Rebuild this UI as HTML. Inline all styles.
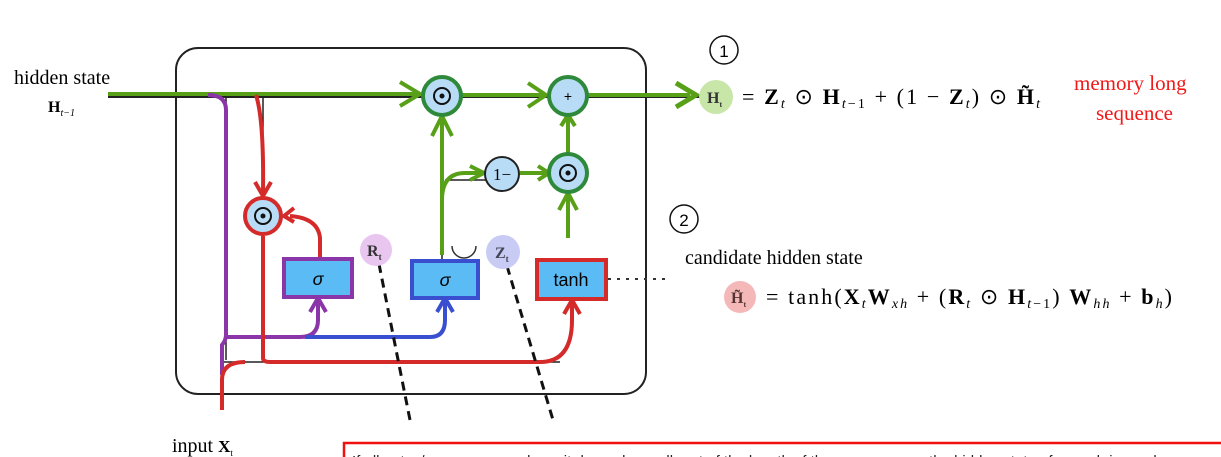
<!DOCTYPE html>
<html><head><meta charset="utf-8"><style>
html,body{margin:0;padding:0;background:#fff;width:1221px;height:457px;overflow:hidden}
svg{display:block}
.s{font-family:"Liberation Serif",serif}
</style></head><body>
<svg width="1221" height="457" viewBox="0 0 1221 457">
<!-- cell box -->
<rect x="176" y="48" width="470" height="346" rx="22" fill="none" stroke="#222" stroke-width="2"/>
<path d="M108,97 H700" stroke="#222" stroke-width="2" fill="none"/>
<path d="M226,97 V360 M263,97 V360 M222,362 H560 M442,262 V173 M445,180 H486" stroke="#222" stroke-width="1.5" fill="none"/>
<g stroke="#58a018" stroke-width="4" fill="none">
<path d="M108,94 H420"/><path d="M400,82 L420,94 L400,106"/>
<path d="M462,95 H546"/><path d="M528,83 L546,95 L528,107"/>
<path d="M588,95 H690"/><path d="M676,83 L696,95 L676,107" stroke-width="5"/>
<path d="M442,255 V118"/><path d="M432,136 L442,116 L452,136"/>
<path d="M442,200 Q442,173 465,173 H484"/><path d="M470,166 L484,173 L470,180"/>
<path d="M520,173 H548"/><path d="M538,166 L549,173 L538,180"/>
<path d="M568,238 V195"/><path d="M559,210 L568,193 L577,210"/>
<path d="M568,153 V117"/><path d="M561,126 L568,115 L575,126"/>
</g>
<path d="M208,95 Q226,95 226,110 V335 Q226,340 222,345 V375" stroke="#8a35a8" stroke-width="4" fill="none"/>
<path d="M226,337 H300 Q318,337 318,320 V300 M310,312 L318,298 L326,312" stroke="#8a35a8" stroke-width="4" fill="none"/>
<path d="M305,337 H430 Q445,337 445,320 V300 M437,312 L445,298 L453,312" stroke="#3a4fd0" stroke-width="4" fill="none"/>
<g stroke="#d42a2a" stroke-width="4" fill="none">
<path d="M256,95 Q264,120 263,192"/><path d="M255,182 L263,196 L271,182"/>
<path d="M263,236 V358 Q263,362 270,362 H540 Q572,362 572,320 V302"/><path d="M564,314 L572,300 L580,314"/>
<path d="M222,410 V380 Q222,362 245,362"/>
<path d="M320,258 V238 Q318,218 290,216"/><path d="M294,208 L284,216 L294,222"/>
</g>
<path d="M379,264 L410,420" stroke="#111" stroke-width="3" stroke-dasharray="9,6" fill="none"/>
<path d="M507,266 L553,420" stroke="#111" stroke-width="3" stroke-dasharray="9,6" fill="none"/>
<path d="M608,279 H668" stroke="#333" stroke-width="2" stroke-dasharray="3,6" fill="none"/>
<g><circle cx="263" cy="216" r="18" fill="#b8dcf5" stroke="#d42a2a" stroke-width="4"/><circle cx="263" cy="216" r="8" fill="none" stroke="#111" stroke-width="2"/><circle cx="263" cy="216" r="2.5" fill="#111"/></g>
<g><circle cx="442" cy="96" r="19" fill="#b8dcf5" stroke="#2e8a3a" stroke-width="4"/><circle cx="442" cy="96" r="8" fill="none" stroke="#111" stroke-width="2"/><circle cx="442" cy="96" r="2.5" fill="#111"/></g>
<g><circle cx="568" cy="96" r="19" fill="#b8dcf5" stroke="#2e8a3a" stroke-width="4"/><text x="568" y="101" text-anchor="middle" font-family="Liberation Sans,sans-serif" font-size="14">+</text></g>
<g><circle cx="568" cy="173" r="19" fill="#b8dcf5" stroke="#2e8a3a" stroke-width="4"/><circle cx="568" cy="173" r="8" fill="none" stroke="#111" stroke-width="2"/><circle cx="568" cy="173" r="2.5" fill="#111"/></g>
<g><circle cx="502" cy="174" r="17" fill="#b8dcf5" stroke="#222" stroke-width="2"/><text x="502" y="180" text-anchor="middle" class="s" font-size="17">1−</text></g>
<g><rect x="284" y="259" width="68" height="38" fill="#5bbcf5" stroke="#8a35a8" stroke-width="4"/><text x="318" y="285" text-anchor="middle" font-family="Liberation Sans,sans-serif" font-style="italic" font-size="18">σ</text></g>
<g><rect x="412" y="261" width="66" height="37" fill="#5bbcf5" stroke="#3a4fd0" stroke-width="4"/><text x="445" y="286" text-anchor="middle" font-family="Liberation Sans,sans-serif" font-style="italic" font-size="18">σ</text></g>
<g><rect x="537" y="260" width="69" height="39" fill="#5bbcf5" stroke="#d42a2a" stroke-width="4"/><text x="571" y="286" text-anchor="middle" font-family="Liberation Sans,sans-serif" font-size="18">tanh</text></g>
<g><circle cx="376" cy="250" r="16" fill="#e8c6f0"/><text x="367" y="256" class="s" font-size="16" font-weight="bold" fill="#333">R<tspan font-size="9" dy="4">t</tspan></text></g>
<path d="M452,246 A12,12 0 0 0 476,246" fill="none" stroke="#333" stroke-width="1.5"/>
<g><circle cx="503" cy="252" r="17" fill="#c8ccf5"/><text x="495" y="258" class="s" font-size="16" font-weight="bold" fill="#445">Z<tspan font-size="9" dy="4">t</tspan></text></g>
<text x="14" y="84" class="s" font-size="20">hidden state</text>
<text x="48" y="112" class="s" font-size="16" font-weight="bold">H<tspan font-size="10" font-weight="normal" font-style="italic" dy="4">t−1</tspan></text>
<text x="172" y="452" class="s" font-size="20">input <tspan font-weight="bold" font-size="17">X</tspan><tspan font-size="9" dy="4">t</tspan></text>
<g><circle cx="724" cy="50" r="14" fill="none" stroke="#111" stroke-width="1.5"/><text x="724" y="57" text-anchor="middle" font-family="Liberation Sans,sans-serif" font-size="17">1</text></g>
<circle cx="716" cy="97" r="17" fill="#c8e6a8"/>
<text x="707" y="103" class="s" font-size="16" font-weight="bold" fill="#333">H<tspan font-size="8" dy="4">t</tspan></text>
<text x="742" y="104" class="s" font-size="22" textLength="298" lengthAdjust="spacing">= <tspan font-weight="bold">Z</tspan><tspan font-size="14" font-style="italic" dy="4">t</tspan><tspan dy="-4"> ⊙ </tspan><tspan font-weight="bold">H</tspan><tspan font-size="14" dy="4"><tspan font-style="italic">t</tspan>−1</tspan><tspan dy="-4"> + (1 − </tspan><tspan font-weight="bold">Z</tspan><tspan font-size="14" font-style="italic" dy="4">t</tspan><tspan dy="-4">) ⊙ </tspan><tspan font-weight="bold">H̃</tspan><tspan font-size="14" font-style="italic" dy="4">t</tspan></text>
<text x="1074" y="90" class="s" font-size="21" fill="#f01818">memory long</text>
<text x="1096" y="120" class="s" font-size="21" fill="#f01818">sequence</text>
<g><circle cx="684" cy="219" r="14" fill="none" stroke="#111" stroke-width="1.5"/><text x="684" y="226" text-anchor="middle" font-family="Liberation Sans,sans-serif" font-size="17">2</text></g>
<text x="685" y="264" class="s" font-size="20">candidate hidden state</text>
<circle cx="740" cy="297" r="16" fill="#f5b8b8"/>
<text x="731" y="303" class="s" font-size="16" font-weight="bold" fill="#533">H̃<tspan font-size="8" dy="4">t</tspan></text>
<text x="766" y="304" class="s" font-size="22" textLength="406" lengthAdjust="spacing">= tanh(<tspan font-weight="bold">X</tspan><tspan font-size="14" font-style="italic" dy="4">t</tspan><tspan font-weight="bold" dy="-4">W</tspan><tspan font-size="14" font-style="italic" dy="4">xh</tspan><tspan dy="-4"> + (</tspan><tspan font-weight="bold">R</tspan><tspan font-size="14" font-style="italic" dy="4">t</tspan><tspan dy="-4"> ⊙ </tspan><tspan font-weight="bold">H</tspan><tspan font-size="14" dy="4"><tspan font-style="italic">t</tspan>−1</tspan><tspan dy="-4">) </tspan><tspan font-weight="bold">W</tspan><tspan font-size="14" font-style="italic" dy="4">hh</tspan><tspan dy="-4"> + </tspan><tspan font-weight="bold">b</tspan><tspan font-size="14" font-style="italic" dy="4">h</tspan><tspan dy="-4">)</tspan></text>
<rect x="344" y="443" width="880" height="30" fill="#fff" stroke="#f01010" stroke-width="2.5"/>
<text x="352" y="466" font-family="Liberation Sans,sans-serif" font-size="15" fill="#222">If all gates/sequences are long, it depends on all part of the length of the sequence; so the hidden state of speech is used</text>
</svg>
</body></html>
